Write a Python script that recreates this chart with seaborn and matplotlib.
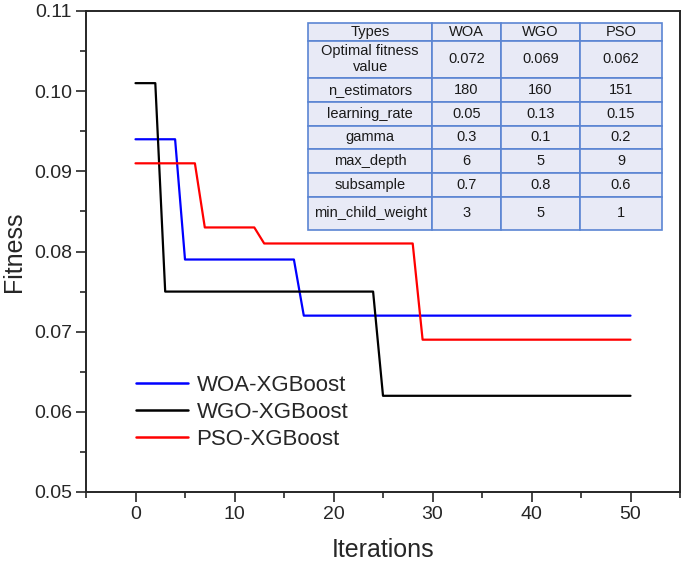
import matplotlib
matplotlib.use("Agg")
import matplotlib.pyplot as plt
from matplotlib.ticker import MultipleLocator
from matplotlib.lines import Line2D
import seaborn as sns
import pandas as pd

# ---- data ----
iter_woa = [0, 4, 5, 16, 17, 50]
fit_woa = [0.094, 0.094, 0.079, 0.079, 0.072, 0.072]
iter_wgo = [0, 2, 3, 24, 25, 50]
fit_wgo = [0.101, 0.101, 0.075, 0.075, 0.062, 0.062]
iter_pso = [0, 6, 7, 12, 13, 28, 29, 50]
fit_pso = [0.091, 0.091, 0.083, 0.083, 0.081, 0.081, 0.069, 0.069]
series_names = ["WOA-XGBoost", "WGO-XGBoost", "PSO-XGBoost"]
series_colors = ["#0000ff", "#000000", "#ff0000"]

table_header = ["Types", "WOA", "WGO", "PSO"]
table_rows = ["Optimal fitness\nvalue", "n_estimators", "learning_rate", "gamma",
              "max_depth", "subsample", "min_child_weight"]
table_woa = ["0.072", "180", "0.05", "0.3", "6", "0.7", "3"]
table_wgo = ["0.069", "160", "0.13", "0.1", "5", "0.8", "5"]
table_pso = ["0.062", "151", "0.15", "0.2", "9", "0.6", "1"]

sns.set_style("ticks")
plt.rcParams["font.family"] = ["Liberation Sans", "DejaVu Sans"]

df = pd.concat([
    pd.DataFrame({"Iterations": iter_woa, "Fitness": fit_woa, "Model": series_names[0]}),
    pd.DataFrame({"Iterations": iter_wgo, "Fitness": fit_wgo, "Model": series_names[1]}),
    pd.DataFrame({"Iterations": iter_pso, "Fitness": fit_pso, "Model": series_names[2]}),
], ignore_index=True)
palette = dict(zip(series_names, series_colors))

fig = plt.figure(figsize=(6.85, 5.66), dpi=100)
ax = fig.add_axes([86 / 685, 1 - 492 / 566, (680 - 86) / 685, (492 - 11) / 566])

sns.lineplot(data=df, x="Iterations", y="Fitness", hue="Model", palette=palette,
             estimator=None, sort=False, linewidth=1.6, legend=False, ax=ax)

ax.set_xlim(-5, 55)
ax.set_ylim(0.05, 0.11)
ax.xaxis.set_major_locator(MultipleLocator(10))
ax.xaxis.set_minor_locator(MultipleLocator(5))
ax.yaxis.set_major_locator(MultipleLocator(0.01))
ax.yaxis.set_minor_locator(MultipleLocator(0.005))
ax.yaxis.set_major_formatter(matplotlib.ticker.FormatStrFormatter("%.2f"))
ax.tick_params(which="major", direction="out", length=7, width=1.2, labelsize=14, pad=3)
ax.tick_params(which="minor", direction="out", length=4, width=1.2)
for s in ax.spines.values():
    s.set_visible(True)
    s.set_linewidth(1.4)
ax.set_xlabel("Iterations", fontsize=18, labelpad=11)
ax.set_ylabel("Fitness", fontsize=18, labelpad=6)

handles = [Line2D([0], [0], color=c, lw=1.8) for c in series_colors]
ax.legend(handles, series_names, loc="upper left", bbox_to_anchor=(0.07, 0.262),
          frameon=False, fontsize=16, handlelength=2.3, handletextpad=0.4,
          labelspacing=0.27, borderaxespad=0)

# ---- table ----
cell_text = [[r, a, b, c] for r, a, b, c in zip(table_rows, table_woa, table_wgo, table_pso)]
col_w = [124.4, 68.3, 79.3, 82.0]
tot_w = sum(col_w)
row_h = [18.3, 36.7, 24, 24, 23.6, 24, 23.4, 33.3]
tot_h = sum(row_h)
tbl = ax.table(cellText=cell_text, colLabels=table_header, cellLoc="center",
               colWidths=[w / tot_w for w in col_w],
               bbox=[(308 - 86) / 594, (492 - 230) / 481, (662 - 308) / 594, (230 - 22.7) / 481])
tbl.auto_set_font_size(False)
tbl.set_fontsize(10.5)
for (r, c), cell in tbl.get_celld().items():
    cell.set_height(row_h[r] / tot_h)
    cell.set_facecolor("#e8eaf6")
    cell.set_edgecolor("#5b85d3")
    cell.set_linewidth(1.2)
    cell.get_text().set_color("#1a1a1a")

fig.savefig("out.png", dpi=100)
